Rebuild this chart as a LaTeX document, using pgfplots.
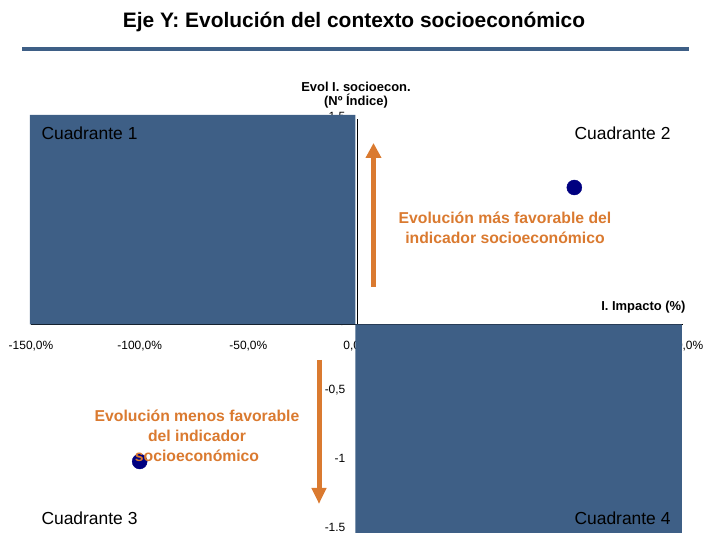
\documentclass[border=0pt]{standalone}
\usepackage{pgfplots}
\pgfplotsset{compat=1.18}
\usepackage{fontspec}
\setmainfont{Liberation Sans}
\usetikzlibrary{arrows.meta}
\definecolor{qblue}{RGB}{62,95,134}
\definecolor{qorange}{RGB}{218,122,48}
\definecolor{navyc}{RGB}{0,0,128}
\begin{document}
\begin{tikzpicture}
\path[use as bounding box] (0bp,0bp) rectangle (707bp,533bp);
\node[font=\fontsize{21}{24}\selectfont\bfseries] at (354bp,511bp) {Eje Y: Evolución del contexto socioeconómico};
\fill[qblue] (22bp,482bp) rectangle (689bp,486bp);
\begin{axis}[
  scale only axis,
  width=652bp, height=411bp,
  at={(31bp,3bp)}, anchor=south west,
  xmin=-150, xmax=150, ymin=-1.5, ymax=1.5,
  axis lines=middle,
  axis line style={black, line width=0.8bp, -},
  hide obscured x ticks=false,
  hide obscured y ticks=false,
  xtick={-150,-100,-50,0,50,100,150},
  xticklabels={{-150,0\%},{-100,0\%},{-50,0\%},{0,0\%},{50,0\%},{100,0\%},{150,0\%}},
  ytick={-1.5,-1,-0.5,0,0.5,1,1.5},
  yticklabels={{-1.5},{-1},{-0,5},{0},{0,5},{1},{1.5}},
  tick style={draw=none},
  ticklabel style={font=\fontsize{12}{14}\selectfont},
  xticklabel style={anchor=north, yshift=-11bp},
  yticklabel style={anchor=east, xshift=-6bp, yshift=3bp},
  /pgf/number format/assume math mode=true,
  clip=false,
]
\addplot[fill=qblue, draw=none] coordinates {(-150.5,0) (-0.7,0) (-0.7,1.53) (-150.5,1.53) (-150.5,0)};
\addplot[fill=qblue, draw=none] coordinates {(-0.8,0) (149.5,0) (149.5,-1.53) (-0.8,-1.53) (-0.8,0)};
\addplot[only marks, mark=*, mark size=7.5bp, color=navyc] coordinates {(100,1.0) (-100,-1.0)};
\end{axis}
\node[font=\fontsize{13}{14}\selectfont\bfseries, align=center] at (356bp,438bp) {Evol I. socioecon.\\(Nº Índice)};
\node[font=\fontsize{13}{14}\selectfont\bfseries, anchor=east] at (689bp,226bp) {I. Impacto (\%)};
\node[font=\fontsize{17.5}{19}\selectfont, anchor=west] at (38bp,400bp) {Cuadrante 1};
\node[font=\fontsize{17.5}{19}\selectfont, anchor=west] at (571bp,400bp) {Cuadrante 2};
\node[font=\fontsize{17.5}{19}\selectfont, anchor=west] at (38bp,15bp) {Cuadrante 3};
\node[font=\fontsize{17.5}{19}\selectfont, anchor=west] at (571bp,15bp) {Cuadrante 4};
\draw[qorange, line width=5bp, -{Triangle[length=15bp,width=15bp]}] (373.5bp,246bp) -- (373.5bp,390bp);
\draw[qorange, line width=5bp, -{Triangle[length=16bp,width=14bp]}] (319bp,173bp) -- (319bp,29bp);
\node[font=\fontsize{15.8}{20}\selectfont\bfseries, text=qorange, align=center] at (505bp,305bp) {Evolución más favorable del\\indicador socioeconómico};
\node[font=\fontsize{15.8}{20}\selectfont\bfseries, text=qorange, align=center] at (197bp,97bp) {Evolución menos favorable\\del indicador\\socioeconómico};
\end{tikzpicture}
\end{document}
